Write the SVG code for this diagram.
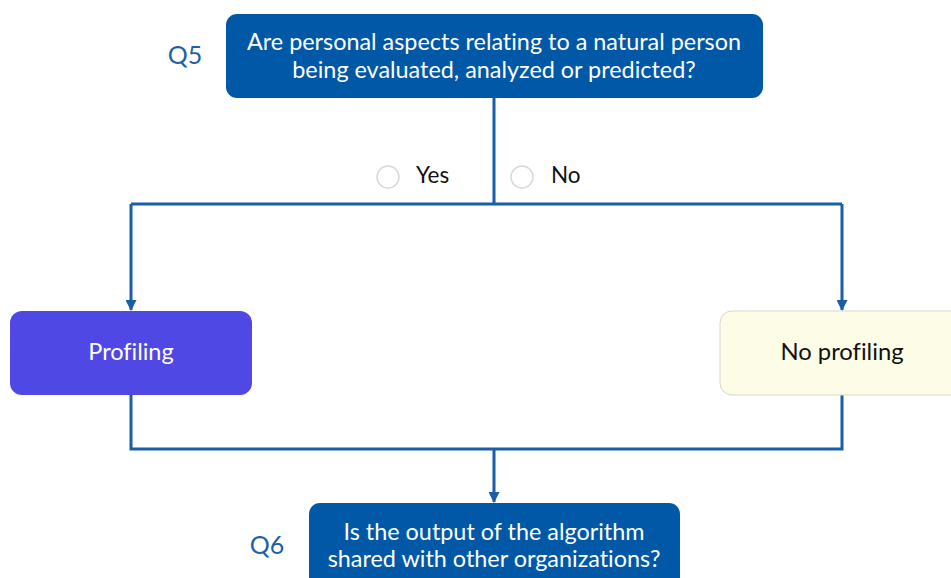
<svg xmlns="http://www.w3.org/2000/svg" width="951" height="578" viewBox="0 0 951 578">
  <style>
    .q { font-family: Lato, "Open Sans", sans-serif; font-variant-ligatures: none; }
    .qbox { fill: #0058a6; }
    .qtext { fill: #ffffff; font-size: 23.4px; text-anchor: middle; }
    .qlabel { fill: #1d5fa8; font-size: 25px; text-anchor: middle; }
    .edge { fill: none; stroke: #1b5ea8; stroke-width: 3; }
    .opt { fill: #ffffff; stroke: #d8d8d8; stroke-width: 1.5; }
    .optlabel { fill: #111111; font-size: 22.5px; }
  </style>
  <defs>
    <marker id="arrow" markerWidth="11" markerHeight="11" refX="10" refY="5.5" orient="auto" markerUnits="userSpaceOnUse" viewBox="0 0 11 11">
      <path d="M0,0 L11,5.5 L0,11 Z" fill="#1b5ea8"/>
    </marker>
  </defs>
  <rect width="951" height="578" fill="#ffffff"/>

  <g id="connectors">
    <path class="edge" d="M494,98 V204 M131,204 H842"/>
    <path class="edge" d="M131,204 V310" marker-end="url(#arrow)"/>
    <path class="edge" d="M842,204 V310" marker-end="url(#arrow)"/>
    <path class="edge" d="M131,395 V449 H842 V395"/>
    <path class="edge" d="M494,449 V502" marker-end="url(#arrow)"/>
  </g>

  <g id="q5" class="q">
    <text class="qlabel" x="185" y="64">Q5</text>
    <rect class="qbox" x="226" y="14" width="537" height="84" rx="11"/>
    <text class="qtext" x="494" y="50">Are personal aspects relating to a natural person</text>
    <text class="qtext" x="494" y="78">being evaluated, analyzed or predicted?</text>
  </g>

  <g id="answers" class="q">
    <circle class="opt" cx="388" cy="177" r="11"/>
    <text class="optlabel" x="416" y="183">Yes</text>
    <circle class="opt" cx="522" cy="177" r="11"/>
    <text class="optlabel" x="551" y="183">No</text>
  </g>

  <g id="profiling" class="q">
    <rect x="10" y="311" width="242" height="84" rx="12" fill="#5048e5"/>
    <text x="131" y="360" fill="#ffffff" font-size="23.5" text-anchor="middle">Profiling</text>
  </g>

  <g id="no-profiling" class="q">
    <rect x="720" y="311" width="250" height="84" rx="12" fill="#fdfce6" stroke="#d6d6d0" stroke-width="1"/>
    <text x="842" y="360" fill="#111111" font-size="23.8" text-anchor="middle">No profiling</text>
  </g>

  <g id="q6" class="q">
    <text class="qlabel" x="267" y="554">Q6</text>
    <rect class="qbox" x="309" y="503" width="371" height="90" rx="11"/>
    <text class="qtext" x="494" y="540">Is the output of the algorithm</text>
    <text class="qtext" x="494" y="567">shared with other organizations?</text>
  </g>
</svg>
